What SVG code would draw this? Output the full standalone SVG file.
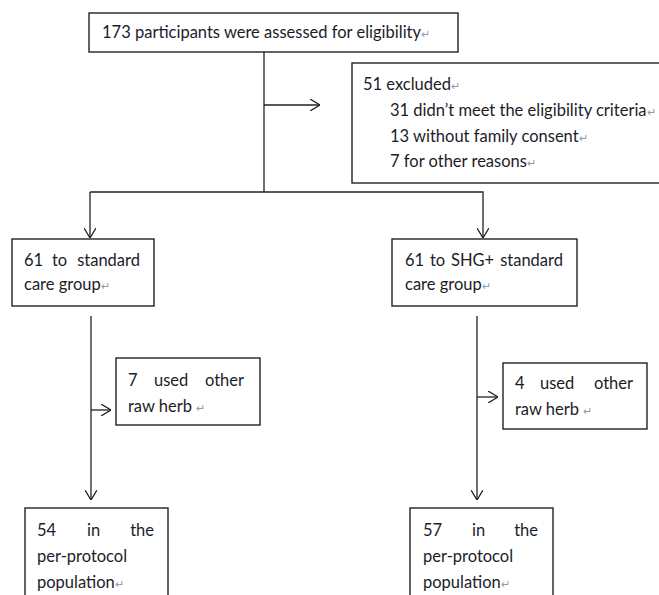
<svg xmlns="http://www.w3.org/2000/svg" width="659" height="595" viewBox="0 0 659 595">
<style>
.box{fill:#fff;stroke:#222;stroke-width:1.4}
.ln{fill:none;stroke:#222;stroke-width:1.3}
text{font-family:Lato,"Liberation Sans",sans-serif;font-size:16.5px;fill:#1c1c2a}
.pm{fill:#999;font-size:11px}
</style>
<defs>
<marker id="ah" viewBox="0 0 10 12" refX="10" refY="6" markerWidth="10" markerHeight="12" markerUnits="userSpaceOnUse" orient="auto">
<path d="M0,0 L10,6 L0,12" fill="none" stroke="#222" stroke-width="1.3"/>
</marker>
</defs>
<rect width="659" height="595" fill="#fff"/>
<g id="connectors">
<line class="ln" x1="264" y1="52" x2="264" y2="192"/>
<line class="ln" x1="264" y1="105" x2="320" y2="105" marker-end="url(#ah)"/>
<polyline class="ln" points="90,192 483,192 483,238" marker-end="url(#ah)"/>
<line class="ln" x1="90" y1="192" x2="90" y2="238" marker-end="url(#ah)"/>
<line class="ln" x1="91" y1="316" x2="91" y2="500" marker-end="url(#ah)"/>
<line class="ln" x1="91" y1="410" x2="111" y2="410" marker-end="url(#ah)"/>
<line class="ln" x1="477" y1="316" x2="477" y2="500" marker-end="url(#ah)"/>
<line class="ln" x1="477" y1="397" x2="498" y2="397" marker-end="url(#ah)"/>
</g>
<g id="assessed">
<rect class="box" x="89" y="13" width="369" height="39"/>
<text x="102" y="38">173 participants were assessed for eligibility<tspan class="pm">↵</tspan></text>
</g>
<g id="excluded">
<rect class="box" x="352" y="63" width="320" height="120"/>
<text x="363" y="90">51 excluded<tspan class="pm">↵</tspan></text>
<text x="390" y="116">31 didn’t meet the eligibility criteria<tspan class="pm">↵</tspan></text>
<text x="390" y="142">13 without family consent<tspan class="pm">↵</tspan></text>
<text x="390" y="167">7 for other reasons<tspan class="pm">↵</tspan></text>
</g>
<g id="standard">
<rect class="box" x="12" y="239" width="142" height="67"/>
<text x="24" y="266">61</text>
<text x="52" y="266">to</text>
<text x="140" y="266" text-anchor="end">standard</text>
<text x="24" y="290">care group<tspan class="pm">↵</tspan></text>
</g>
<g id="shg">
<rect class="box" x="392" y="239" width="185" height="67"/>
<text x="405" y="266">61</text>
<text x="430" y="266">to</text>
<text x="451" y="266">SHG+</text>
<text x="563" y="266" text-anchor="end">standard</text>
<text x="405" y="290">care group<tspan class="pm">↵</tspan></text>
</g>
<g id="herb-left">
<rect class="box" x="116" y="358" width="144" height="67"/>
<text x="128" y="386">7</text>
<text x="154" y="386">used</text>
<text x="244" y="386" text-anchor="end">other</text>
<text x="128" y="412">raw herb <tspan class="pm">↵</tspan></text>
</g>
<g id="herb-right">
<rect class="box" x="503" y="363" width="144" height="66"/>
<text x="515" y="389">4</text>
<text x="540" y="389">used</text>
<text x="633" y="389" text-anchor="end">other</text>
<text x="515" y="415">raw herb <tspan class="pm">↵</tspan></text>
</g>
<g id="pp-left">
<rect class="box" x="25" y="508" width="143" height="100"/>
<text x="37" y="536">54</text>
<text x="87" y="536">in</text>
<text x="154" y="536" text-anchor="end">the</text>
<text x="37" y="562">per-protocol</text>
<text x="37" y="588">population<tspan class="pm">↵</tspan></text>
</g>
<g id="pp-right">
<rect class="box" x="410" y="508" width="143" height="100"/>
<text x="423" y="536">57</text>
<text x="472" y="536">in</text>
<text x="538" y="536" text-anchor="end">the</text>
<text x="423" y="562">per-protocol</text>
<text x="423" y="588">population<tspan class="pm">↵</tspan></text>
</g>
</svg>
